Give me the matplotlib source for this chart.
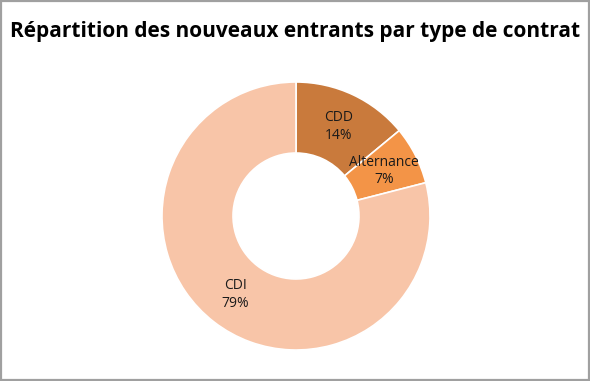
import numpy as np
import matplotlib
matplotlib.use("Agg")
import matplotlib.pyplot as plt
from matplotlib.patches import Rectangle

categories = ["CDD", "Alternance", "CDI"]
values = [14, 7, 79]
colors = ["#C97A3C", "#F39447", "#F8C5A8"]
title = "Répartition des nouveaux entrants par type de contrat"

plt.rcParams['font.family'] = ['Open Sans', 'DejaVu Sans']

fig = plt.figure(figsize=(5.9, 3.81), dpi=100)
fig.patch.set_facecolor("white")
fig.patches.append(Rectangle((0.002, 0.003), 0.996, 0.994, transform=fig.transFigure,
                             fill=False, edgecolor="#A0A0A0", linewidth=1.6))

ax = fig.add_axes([162/590, 31/381, 268/590, 268/381])
wedges, _ = ax.pie(values, colors=colors, startangle=90, counterclock=False,
                   radius=1.0, wedgeprops=dict(width=0.53, edgecolor="white", linewidth=1.2))
ax.set_xlim(-1, 1)
ax.set_ylim(-1, 1)
ax.set_aspect("equal")

total = sum(values)
for w, cat, v in zip(wedges, categories, values):
    ang = np.deg2rad((w.theta1 + w.theta2) / 2)
    r = 0.74
    ax.text(r*np.cos(ang), r*np.sin(ang), f"{cat}\n{round(100*v/total)}%",
            ha="center", va="center", fontsize=10, color="#1A1A1A", linespacing=1.25)

fig.text(0.5, 0.918, title, ha="center", va="center", fontsize=15, fontweight="bold", color="black")

fig.savefig("out.png", dpi=100)
